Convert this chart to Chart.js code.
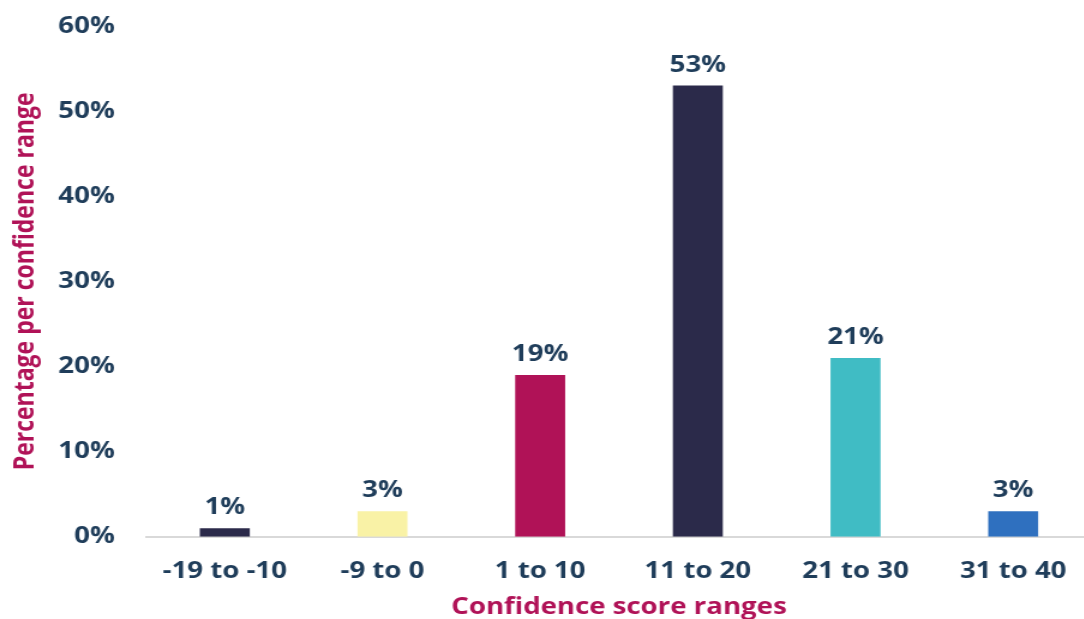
<!DOCTYPE html>
<html>
<head>
<meta charset="utf-8">
<script src="https://cdn.jsdelivr.net/npm/chart.js@4"></script>
<style>
  html, body { margin: 0; padding: 0; background: #fff; overflow: hidden; width: 1084px; height: 619px; }
  /* the chart is laid out narrow and widened, so the lettering comes out broad */
  #wrap { width: 910px; height: 619px; position: relative; transform: scaleX(1.2); transform-origin: 0 0; }
</style>
</head>
<body>
<div id="wrap"><canvas id="scoreChart"></canvas></div>
<script>
const categories = ['-19 to -10', '-9 to 0', '1 to 10', '11 to 20', '21 to 30', '31 to 40'];
const shares = [1, 3, 19, 53, 21, 3];
const barColors = ['#2b2a4a', '#f9f2a6', '#b01257', '#2b2a4a', '#40bcc4', '#2f70bf'];
const yTicks = [0, 10, 20, 30, 40, 50, 60];

const FONT = '"Open Sans", "Noto Sans", sans-serif';
const TEXT = '#1f3d5a';
const ACCENT = '#b01257';
const SIZE = 23;

// puts the percentage over each bar
const barLabels = {
    id: 'barLabels',
    afterDatasetsDraw(chart) {
        const ctx = chart.ctx;
        const meta = chart.getDatasetMeta(0);
        ctx.save();
        ctx.font = 'bold ' + SIZE + 'px ' + FONT;
        ctx.fillStyle = TEXT;
        ctx.textAlign = 'center';
        ctx.textBaseline = 'alphabetic';
        meta.data.forEach((bar, i) => {
            ctx.fillText(shares[i] + '%', bar.x, bar.y - 14);
        });
        ctx.restore();
    }
};

new Chart(document.getElementById('scoreChart'), {
    type: 'bar',
    data: {
        labels: categories,
        datasets: [{
            data: shares,
            backgroundColor: barColors,
            barPercentage: 1,
            categoryPercentage: 0.317
        }]
    },
    options: {
        responsive: true,
        maintainAspectRatio: false,
        animation: false,
        layout: { padding: { top: 0, right: 0, left: 8, bottom: 0 } },
        plugins: {
            legend: { display: false },
            tooltip: { enabled: false }
        },
        scales: {
            x: {
                grid: { display: false, drawTicks: false },
                border: { display: true, color: '#d9d9d9', width: 2 },
                ticks: { color: TEXT, font: { family: FONT, size: SIZE, weight: 'bold' }, padding: 21 },
                title: {
                    display: true,
                    text: 'Confidence score ranges',
                    color: ACCENT,
                    font: { family: FONT, size: SIZE, weight: 'bold' },
                    padding: { top: -13, bottom: -2 }
                }
            },
            y: {
                min: yTicks[0],
                max: yTicks[yTicks.length - 1],
                afterBuildTicks: scale => { scale.ticks = yTicks.map(v => ({ value: v })); },
                afterFit: scale => { scale.paddingTop = 26; scale.paddingBottom = 14; },
                grid: { display: false, drawTicks: false },
                border: { display: false },
                ticks: {
                    color: TEXT,
                    font: { family: FONT, size: SIZE, weight: 'bold' },
                    padding: 26,
                    callback: v => v + '%'
                },
                title: {
                    display: true,
                    text: 'Percentage per confidence range',
                    color: ACCENT,
                    font: { family: FONT, size: SIZE, weight: 'bold' },
                    padding: { top: 0, bottom: -13 }
                }
            }
        }
    },
    plugins: [barLabels]
});
</script>
</body>
</html>
